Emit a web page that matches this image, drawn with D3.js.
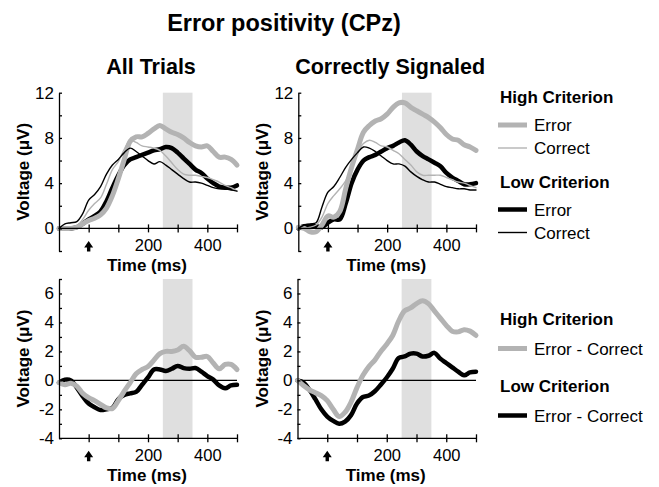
<!DOCTYPE html>
<html><head><meta charset="utf-8">
<script src="https://cdn.jsdelivr.net/npm/d3@7"></script>
<style>body{margin:0;background:#fff}svg{display:block;font-family:"Liberation Sans",Arial,sans-serif}</style>
</head><body><svg id="c" width="659" height="487"></svg>
<script>
// ---------- data ----------
const time = [-100,-80,-60,-40,-20,0,20,40,60,80,100,120,140,160,180,200,220,240,260,280,300,320,340,360,380,400,420,440,460,480,500];

// All Trials
const allHighError   = [0,0,0,0.1,0.4,0.7,0.9,1.2,1.8,2.9,4.4,6.1,7.7,8.1,8.1,8.4,8.8,9.1,8.8,8.5,8.3,8.0,7.6,7.3,7.2,7.3,6.8,6.3,6.3,6.1,5.6];
const allHighCorrect = [0,0,0,0.2,0.8,1.6,2.2,2.7,3.9,5.2,5.9,7.0,7.8,7.6,7.3,7.2,7.1,6.9,6.4,5.8,5.2,4.8,4.7,4.7,4.6,4.5,4.3,4.1,3.8,3.6,3.3];
const allLowError    = [0,0,0,0.1,0.4,0.8,1.1,1.5,2.4,3.6,4.7,5.6,6.1,6.3,6.5,6.7,6.9,7.0,7.2,7.1,6.7,6.2,5.7,5.2,4.9,4.4,4.0,3.7,3.6,3.6,3.8];
const allLowCorrect  = [0,0.4,0.5,0.6,1.3,2.5,3.0,3.7,4.8,5.6,6.1,6.7,7.1,6.8,6.4,6.0,5.7,5.9,5.6,5.2,4.8,4.4,4.1,4.1,4.0,3.8,3.6,3.5,3.5,3.4,3.3];

// Correctly Signaled
const sigHighError   = [0.1,0,-0.3,-0.3,0.3,1.1,1.0,1.5,3.5,5.4,7.0,8.5,9.1,9.5,9.7,10.1,10.7,11.1,11.1,10.7,10.4,10.1,9.8,9.4,8.9,8.3,7.9,7.8,7.4,7.2,6.9];
const sigHighCorrect = [0,0,0.1,0.3,1.0,2.2,2.9,3.5,4.2,5.2,6.7,7.5,7.8,7.6,7.3,7.2,6.9,6.6,6.1,5.6,5.0,4.7,4.7,4.7,4.7,4.5,4.3,4.1,4.0,3.8,3.6];
const sigLowError    = [0,0.2,0.2,0.2,0.1,0.5,0.8,0.8,2.2,4.0,5.2,6.0,6.3,6.5,6.8,7.1,7.3,7.6,7.8,7.4,6.8,6.4,6.1,5.8,5.5,4.9,4.5,4.2,3.9,3.9,4.0];
const sigLowCorrect  = [0,0.3,0.4,0.5,1.9,3.2,3.7,4.5,5.4,6.1,6.7,7.2,7.1,6.8,6.4,6.0,5.7,5.7,5.5,5.0,4.6,4.3,4.1,4.1,3.9,3.7,3.6,3.5,3.5,3.4,3.4];

// Difference waves (Error - Correct)
const allHighDiff = [-0.15,-0.3,-0.2,-0.4,-0.9,-1.2,-1.4,-1.65,-1.9,-1.95,-1.4,-0.75,-0.15,0.45,0.75,0.95,1.4,1.85,2.0,2.0,2.1,2.35,2.05,1.6,1.6,1.65,1.2,0.8,1.1,1.1,0.75];
const allLowDiff  = [-0.15,0.05,0.0,-0.5,-1.1,-1.6,-1.85,-2.05,-2.0,-1.9,-1.3,-1.0,-0.9,-0.8,-0.3,0.2,0.75,0.75,0.65,0.8,1.0,0.85,0.8,0.85,0.6,0.3,0.05,-0.35,-0.55,-0.35,-0.3];
const sigHighDiff = [0,-0.35,-0.65,-0.85,-1.05,-1.4,-2.0,-2.5,-2.2,-1.5,-0.5,0.35,0.95,1.4,2.0,2.5,3.1,4.1,4.8,5.0,5.3,5.5,5.3,4.8,4.3,3.8,3.4,3.35,3.5,3.4,3.1];
const sigLowDiff  = [0,-0.15,-0.65,-1.3,-2.0,-2.5,-2.8,-3.0,-2.85,-2.4,-1.6,-1.15,-1.05,-0.75,-0.3,0.2,0.8,1.55,1.65,1.85,1.85,1.65,1.7,1.9,1.5,1.2,0.9,0.6,0.35,0.55,0.6];

const xTicks = [0,100,200,300,400,500];
const xTickLabels = [200,400];
const topYTicks = [-2,0,2,4,6,8,10,12];
const topYLabels = [0,4,8,12];
const botYTicks = [-4,-3,-2,-1,0,1,2,3,4,5,6,7];
const botYLabels = [-4,-2,0,2,4,6];
const windowMs = [250,350];

const title = "Error positivity (CPz)";
const panelTitles = ["All Trials","Correctly Signaled"];
const xLabel = "Time (ms)";
const yLabel = "Voltage (\u03bcV)";

// ---------- styles ----------
const GREY = "#b3b3b3", BLACK = "#000";
const styles = {
  highError:  {stroke: GREY, width: 5},
  highCorrect:{stroke: GREY, width: 1.4},
  lowError:   {stroke: BLACK, width: 4.5},
  lowCorrect: {stroke: BLACK, width: 1.4},
  highDiff:   {stroke: GREY, width: 5},
  lowDiff:    {stroke: BLACK, width: 4.5}
};

const svg = d3.select("#c");

svg.append("text").attr("x", 284).attr("y", 31).attr("text-anchor","middle")
  .attr("font-size", 23.5).attr("font-weight","bold").text(title);

const panels = [
  {left:59,  right:237, top:92.7, bottom:251, domain:[-2,12], kind:"top", title: panelTitles[0],
   series:[["lowError",allLowError],["highError",allHighError],["highCorrect",allHighCorrect],["lowCorrect",allLowCorrect]]},
  {left:298.3, right:476, top:92.7, bottom:251, domain:[-2,12], kind:"top", title: panelTitles[1],
   series:[["lowError",sigLowError],["highError",sigHighError],["highCorrect",sigHighCorrect],["lowCorrect",sigLowCorrect]]},
  {left:59,  right:237, top:279, bottom:438.3, domain:[-4,7], kind:"bot",
   series:[["lowDiff",allLowDiff],["highDiff",allHighDiff]]},
  {left:297.5, right:476, top:279, bottom:438.3, domain:[-4,7], kind:"bot",
   series:[["lowDiff",sigLowDiff],["highDiff",sigHighDiff]]}
];

panels.forEach(p => {
  const g = svg.append("g");
  const x = d3.scaleLinear().domain([-100,500]).range([p.left,p.right]);
  const y = d3.scaleLinear().domain(p.domain).range([p.bottom,p.top]);
  const axisY = p.kind === "top" ? y(0) : p.bottom;
  const shadeBottom = p.kind === "top" ? y(0) : p.bottom;

  // shaded window
  g.append("rect").attr("x", x(windowMs[0])).attr("width", x(windowMs[1]) - x(windowMs[0]))
    .attr("y", p.top).attr("height", shadeBottom - p.top).attr("fill", "#dfdfdf");

  // zero line for difference waves
  if (p.kind === "bot") {
    g.append("line").attr("x1", x(-100)).attr("x2", x(500)).attr("y1", y(0)).attr("y2", y(0))
      .attr("stroke", "#000").attr("stroke-width", 1.1);
  }

  // lines
  const line = d3.line().x((d,i) => x(time[i])).y(d => y(d)).curve(d3.curveCatmullRom.alpha(0.5));
  p.series.forEach(([k, vals]) => {
    g.append("path").attr("d", line(vals)).attr("fill","none")
      .attr("stroke", styles[k].stroke).attr("stroke-width", styles[k].width)
      .attr("stroke-linejoin","round").attr("stroke-linecap","round");
  });

  // x axis
  const labelBase = p.kind === "top" ? 251.5 : 461;
  const xa = g.append("g").attr("transform", `translate(0,${axisY})`)
    .call(d3.axisBottom(x).tickValues(xTicks).tickSize(4).tickSizeOuter(0)
      .tickFormat(d => xTickLabels.includes(d) ? d : ""));
  xa.select(".domain").attr("d", `M${x(-100)},0H${x(500)}`).attr("stroke-width", 1.3);
  xa.selectAll(".tick line").attr("y1", -4).attr("stroke-width", 1.3);
  xa.selectAll(".tick text").attr("y", labelBase - axisY).attr("dy", null).attr("font-size", 16.5)
    .attr("font-family", "Liberation Sans, Arial, sans-serif").attr("fill","#000");

  // y axis
  const yTicks = p.kind === "top" ? topYTicks : botYTicks;
  const yLabels = p.kind === "top" ? topYLabels : botYLabels;
  const ya = g.append("g").attr("transform", `translate(${p.left},0)`)
    .call(d3.axisLeft(y).tickValues(yTicks).tickSize(3).tickSizeOuter(0)
      .tickFormat(d => yLabels.includes(d) ? d : ""));
  ya.selectAll(".tick line").attr("x2", 3).attr("stroke-width", 1.3);
  ya.select(".domain").attr("stroke-width", 1.3);
  ya.selectAll(".tick text").attr("x", -5).attr("font-size", 17)
    .attr("font-family", "Liberation Sans, Arial, sans-serif").attr("fill","#000");

  // response arrow at t = 0
  const ax = x(0), ay = axisY + 12.5;
  g.append("path").attr("d", `M${ax},${ay} L${ax+4.5},${ay+6.5} L${ax+1.7},${ay+6.5} L${ax+1.7},${ay+10.5} L${ax-1.7},${ay+10.5} L${ax-1.7},${ay+6.5} L${ax-4.5},${ay+6.5} Z`)
    .attr("fill", "#000");

  // axis labels
  g.append("text").attr("x", (p.left + p.right)/2 - 1).attr("y", p.kind === "top" ? 270.8 : 480.5)
    .attr("text-anchor","middle").attr("font-size", 17).attr("font-weight","bold").text(xLabel);
  const cy = (p.top + p.bottom)/2;
  g.append("text").attr("transform", `translate(${p.left - 30},${cy}) rotate(-90)`)
    .attr("text-anchor","middle").attr("font-size", 17).attr("font-weight","bold").text(yLabel);

  if (p.title) {
    svg.append("text").attr("x", (p.left + p.right)/2 + 3).attr("y", 74).attr("text-anchor","middle")
      .attr("font-size", 21.5).attr("font-weight","bold").text(p.title);
  }
});

// ---------- legends ----------
const legendTop = [
  {type:"head", text:"High Criterion", y:103},
  {type:"item", key:"highError", text:"Error", y:125},
  {type:"item", key:"highCorrect", text:"Correct", y:148},
  {type:"head", text:"Low Criterion", y:188},
  {type:"item", key:"lowError", text:"Error", y:209.5},
  {type:"item", key:"lowCorrect", text:"Correct", y:232.5}
];
const legendBot = [
  {type:"head", text:"High Criterion", y:325},
  {type:"item", key:"highDiff", text:"Error - Correct", y:348.5},
  {type:"head", text:"Low Criterion", y:392},
  {type:"item", key:"lowDiff", text:"Error - Correct", y:415.5}
];
[legendTop, legendBot].forEach(L => {
  L.forEach(it => {
    if (it.type === "head") {
      svg.append("text").attr("x", 500).attr("y", it.y).attr("font-size", 17)
        .attr("font-weight","bold").text(it.text);
    } else {
      svg.append("line").attr("x1", 498).attr("x2", 527).attr("y1", it.y).attr("y2", it.y)
        .attr("stroke", styles[it.key].stroke).attr("stroke-width", styles[it.key].width);
      svg.append("text").attr("x", 534).attr("y", it.y + 6).attr("font-size", 17).text(it.text);
    }
  });
});
</script></body></html>
